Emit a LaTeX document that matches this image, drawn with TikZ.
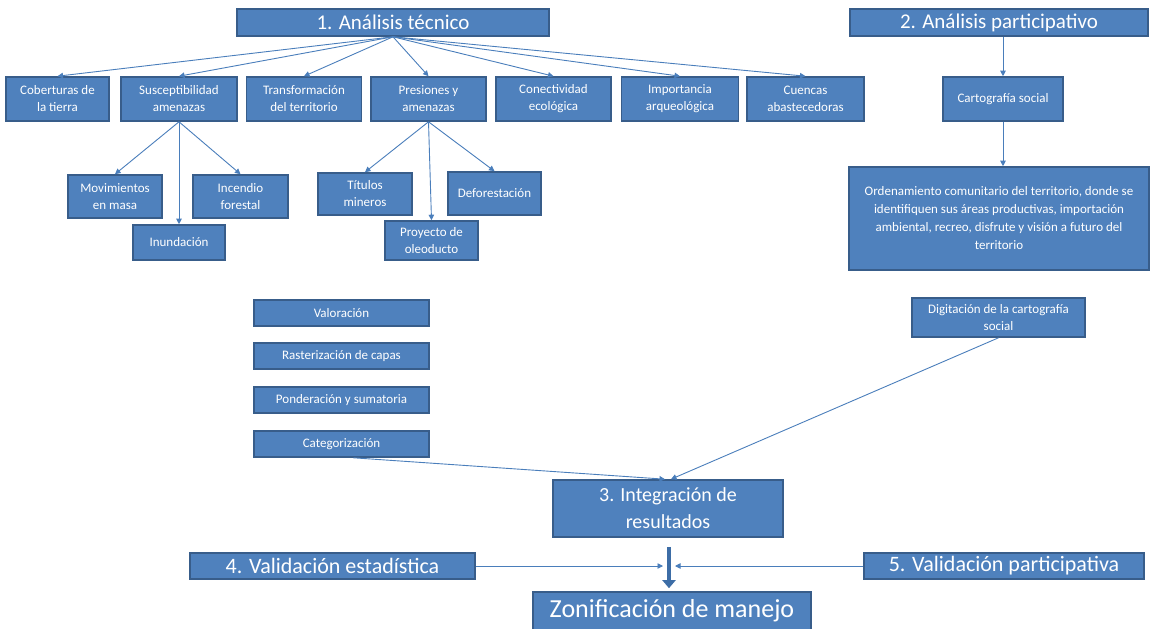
\documentclass[tikz,border=0pt]{standalone}
\usepackage{fontspec}
\setmainfont{Carlito}
\usetikzlibrary{arrows.meta}
\definecolor{boxfill}{HTML}{4F81BD}
\definecolor{boxline}{HTML}{385D8A}
\definecolor{conn}{HTML}{4A7EBB}
\definecolor{thickc}{HTML}{3D6DA6}
\begin{document}
\begin{tikzpicture}[x=1pt,y=-1pt,
  box/.style={draw=boxline, fill=boxfill, line width=1.6pt, text=white, align=center, inner sep=0pt},
  sm/.style={box, font=\fontsize{13}{17}\selectfont},
  big/.style={box, font=\fontsize{21}{25}\selectfont},
  mid/.style={box, font=\fontsize{22}{25}\selectfont},
  arr/.style={draw=conn, line width=0.9pt, -{Triangle[length=5.5pt,width=5.5pt]}},
  fat/.style={draw=thickc, line width=4.5pt, -{Triangle[length=8pt,width=13pt]}}
]
\useasboundingbox (0,0) rectangle (1151,629);

% top level
\node[big, minimum width=312pt, minimum height=27pt] (t1) at (393,22.5) {1. Análisis técnico};
\node[big, minimum width=298pt, minimum height=27pt] (t2) at (999,22.5) {2. Análisis participativo};

% row of seven
\node[sm, minimum width=103pt, minimum height=44pt] (cob) at (57.5,99) {Coberturas de\\la tierra};
\node[sm, minimum width=116pt, minimum height=44pt] (sus) at (179,99) {Susceptibilidad\\amenazas};
\node[sm, minimum width=115pt, minimum height=44pt] (tra) at (304,99) {Transformación\\del territorio};
\node[sm, minimum width=115pt, minimum height=44pt] (pre) at (428.5,99) {Presiones y\\amenazas};
\node[sm, minimum width=115pt, minimum height=44pt] (con) at (553.5,99) {Conectividad\\ecológica};
\node[sm, minimum width=117pt, minimum height=44pt] (imp) at (680,99) {Importancia\\arqueológica};
\node[sm, minimum width=117pt, minimum height=44pt] (cue) at (805.5,99) {Cuencas\\abastecedoras};

\node[sm, minimum width=120pt, minimum height=44pt] (car) at (1003,99) {Cartografía social};

% sub-boxes
\node[sm, minimum width=94pt, minimum height=43pt] (mov) at (115,196.5) {Movimientos\\en masa};
\node[sm, minimum width=95pt, minimum height=43pt] (inc) at (240.5,196.5) {Incendio\\forestal};
\node[sm, minimum width=92pt, minimum height=35pt] (inu) at (179,242.5) {Inundación};
\node[sm, minimum width=94pt, minimum height=42pt] (tit) at (365,194) {Títulos\\mineros};
\node[sm, minimum width=93pt, minimum height=43pt] (def) at (494.5,193.5) {Deforestación};
\node[sm, minimum width=93pt, minimum height=39pt] (ole) at (431.5,240.5) {Proyecto de\\oleoducto};

\node[box, font=\fontsize{13}{18}\selectfont, minimum width=300pt, minimum height=103pt] (ord) at (999,218.5)
  {Ordenamiento comunitario del territorio, donde se\\identifiquen sus áreas productivas, importación\\ambiental, recreo, disfrute y visión a futuro del\\territorio};

% process steps
\node[sm, minimum width=175pt, minimum height=26pt] (val) at (341.5,313) {Valoración};
\node[sm, minimum width=175pt, minimum height=26pt] (ras) at (341.5,356) {Rasterización de capas};
\node[sm, minimum width=175pt, minimum height=26pt] (pon) at (341.5,400) {Ponderación y sumatoria};
\node[sm, minimum width=175pt, minimum height=26pt] (cat) at (341.5,444) {Categorización};

\node[sm, minimum width=173pt, minimum height=39pt] (dig) at (998.5,317.5) {Digitación de la cartografía\\social};

\node[box, font=\fontsize{20}{27}\selectfont, minimum width=230pt, minimum height=57pt] (int) at (668,508.5) {3. Integración de\\resultados};

\node[mid, minimum width=285pt, minimum height=26pt] (v4) at (332.5,566) {4. Validación estadística};
\node[mid, minimum width=280pt, minimum height=26pt] (v5) at (1004,566) {5. Validación participativa};

\node[box, font=\fontsize{26}{30}\selectfont, minimum width=278pt, minimum height=38pt] (zon) at (672,611) {Zonificación de manejo};

% connectors
\foreach \n in {cob,sus,tra,pre,con,imp,cue}
  \draw[arr] (t1.south) -- (\n.north);
\draw[arr] (t2.south -| car.north) -- (car.north);
\draw[arr] (car.south) -- (car.south |- ord.north);

\draw[arr] (sus.south) -- (mov.north);
\draw[arr] (sus.south) -- (inu.north);
\draw[arr] (sus.south) -- (inc.north);
\draw[arr] (pre.south) -- (tit.north);
\draw[arr] (pre.south) -- (ole.north);
\draw[arr] (pre.south) -- (def.north);

\draw[arr] ([xshift=12pt]cat.south) -- ([xshift=-3pt]int.north);
\draw[arr] (dig.south) -- ([xshift=3pt]int.north);

\coordinate (mL) at ([xshift=-5pt]int.center |- v4.east);
\coordinate (mR) at ([xshift=7pt]int.center |- v4.east);
\draw[arr] (v4.east) -- (mL);
\draw[arr] (v5.west) -- (mR);

\coordinate (ts) at ([yshift=-9pt,xshift=1pt]int.south);
\coordinate (te) at ([yshift=3pt,xshift=1pt]int.south |- zon.north);
\draw[fat] (ts) -- (te);
\end{tikzpicture}
\end{document}
